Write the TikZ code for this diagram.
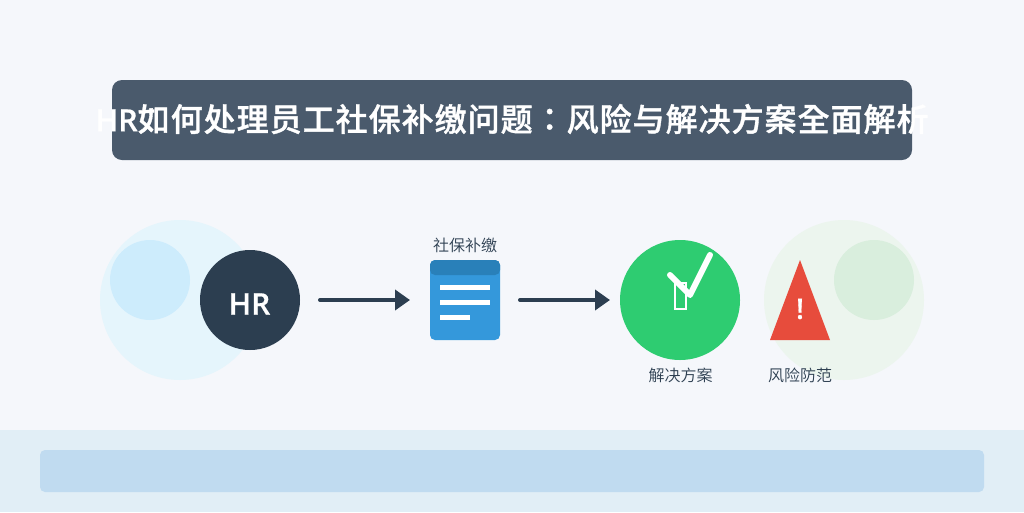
\documentclass[tikz,border=0pt]{standalone}
\usepackage{fontspec}
\usetikzlibrary{arrows.meta}
\setmainfont{Noto Sans CJK SC}
\newfontfamily\titlefont[LetterSpace=3.1,FakeBold=1.1]{Noto Sans CJK TC Medium}
\newfontfamily\labelfont{Noto Sans CJK SC DemiLight}
\newfontfamily\latinfont[FakeBold=0.6]{Open Sans Semibold}
\definecolor{bgc}{HTML}{F5F7FB}
\definecolor{bandc}{HTML}{E1EEF6}
\definecolor{barc}{HTML}{C0DBF0}
\definecolor{slate}{HTML}{4A5A6C}
\definecolor{navy}{HTML}{2C3E50}
\definecolor{blue}{HTML}{3498DB}
\definecolor{dblue}{HTML}{2980B9}
\definecolor{grn}{HTML}{2ECC71}
\definecolor{redc}{HTML}{E74C3C}
\definecolor{pale1}{HTML}{E5F5FC}
\definecolor{pale2}{HTML}{CDECFC}
\definecolor{pale3}{HTML}{ECF5EE}
\definecolor{pale4}{HTML}{D9EEDD}
\tikzset{
  labeltext/.style={text=navy,font=\labelfont\fontsize{16}{16}\selectfont,inner sep=0pt,anchor=center},
  flow/.style={draw=navy,line width=4pt,line cap=round,-{Triangle[length=15pt,width=20pt]}},
  docline/.style={fill=white},
}
\begin{document}
\begin{tikzpicture}[x=1pt,y=-1pt]
\useasboundingbox (0,0) rectangle (1024,512);
\fill[bgc] (0,0) rectangle (1024,512);
\fill[bandc] (0,430) rectangle (1024,512);
\fill[barc,rounded corners=5pt] (40,450) rectangle (984,492);
\fill[slate,rounded corners=10pt] (112,80) rectangle (912,160);
\node[text=white,inner sep=0pt,font=\titlefont\fontsize{32}{32}\selectfont] (title) at (512,119) {{\latinfont\fontsize{30.5}{32}\selectfont HR}如何处理员工社保补缴问题：风险与解决方案全面解析};
% decorative circles
\fill[pale1] (180,300) circle[radius=80];
\fill[pale2] (150,280) circle[radius=40];
\fill[pale3] (844,300) circle[radius=80];
\fill[pale4] (874,280) circle[radius=40];
% HR
\node[circle,fill=navy,minimum size=100pt,inner sep=0pt] (hr) at (250,300) {};
\node[text=white,inner sep=0pt,font=\latinfont\fontsize{30}{30}\selectfont] (hrtext) at (249.5,304) {HR};
% arrows
\coordinate (a1s) at (320,300); \coordinate (a1e) at (410,300);
\coordinate (a2s) at (520,300); \coordinate (a2e) at (610,300);
\draw[flow] (a1s) -- (a1e);
\draw[flow] (a2s) -- (a2e);
% document
\fill[blue,rounded corners=5pt] (430,260) rectangle (500,340);
\fill[dblue,rounded corners=5pt] (430,260) rectangle (500,275);
\fill[docline] (440,285) rectangle (490,290);
\fill[docline] (440,300) rectangle (490,305);
\fill[docline] (440,315) rectangle (470,320);
\node[labeltext] (l1) at (465,245) {社保补缴};
% solution
\node[circle,fill=grn,minimum size=120pt,inner sep=0pt] (sol) at (680,300) {};
\draw[white,line width=1.5pt] (675,283) rectangle (686,309);
\coordinate (c1) at (670,275); \coordinate (c2) at (690,295); \coordinate (c3) at (710,255);
\draw[white,line width=6pt,line cap=round,line join=round] (c1) -- (c2) -- (c3);
\node[labeltext] (l2) at (680.5,375) {解决方案};
% warning
\fill[redc] (800,260) -- (830,340) -- (770,340) -- cycle;
\node[text=white,inner sep=0pt,font=\latinfont\fontsize{28}{28}\selectfont] (ex) at (800,309) {!};
\node[labeltext] (l3) at (800,375) {风险防范};
\end{tikzpicture}
\end{document}
